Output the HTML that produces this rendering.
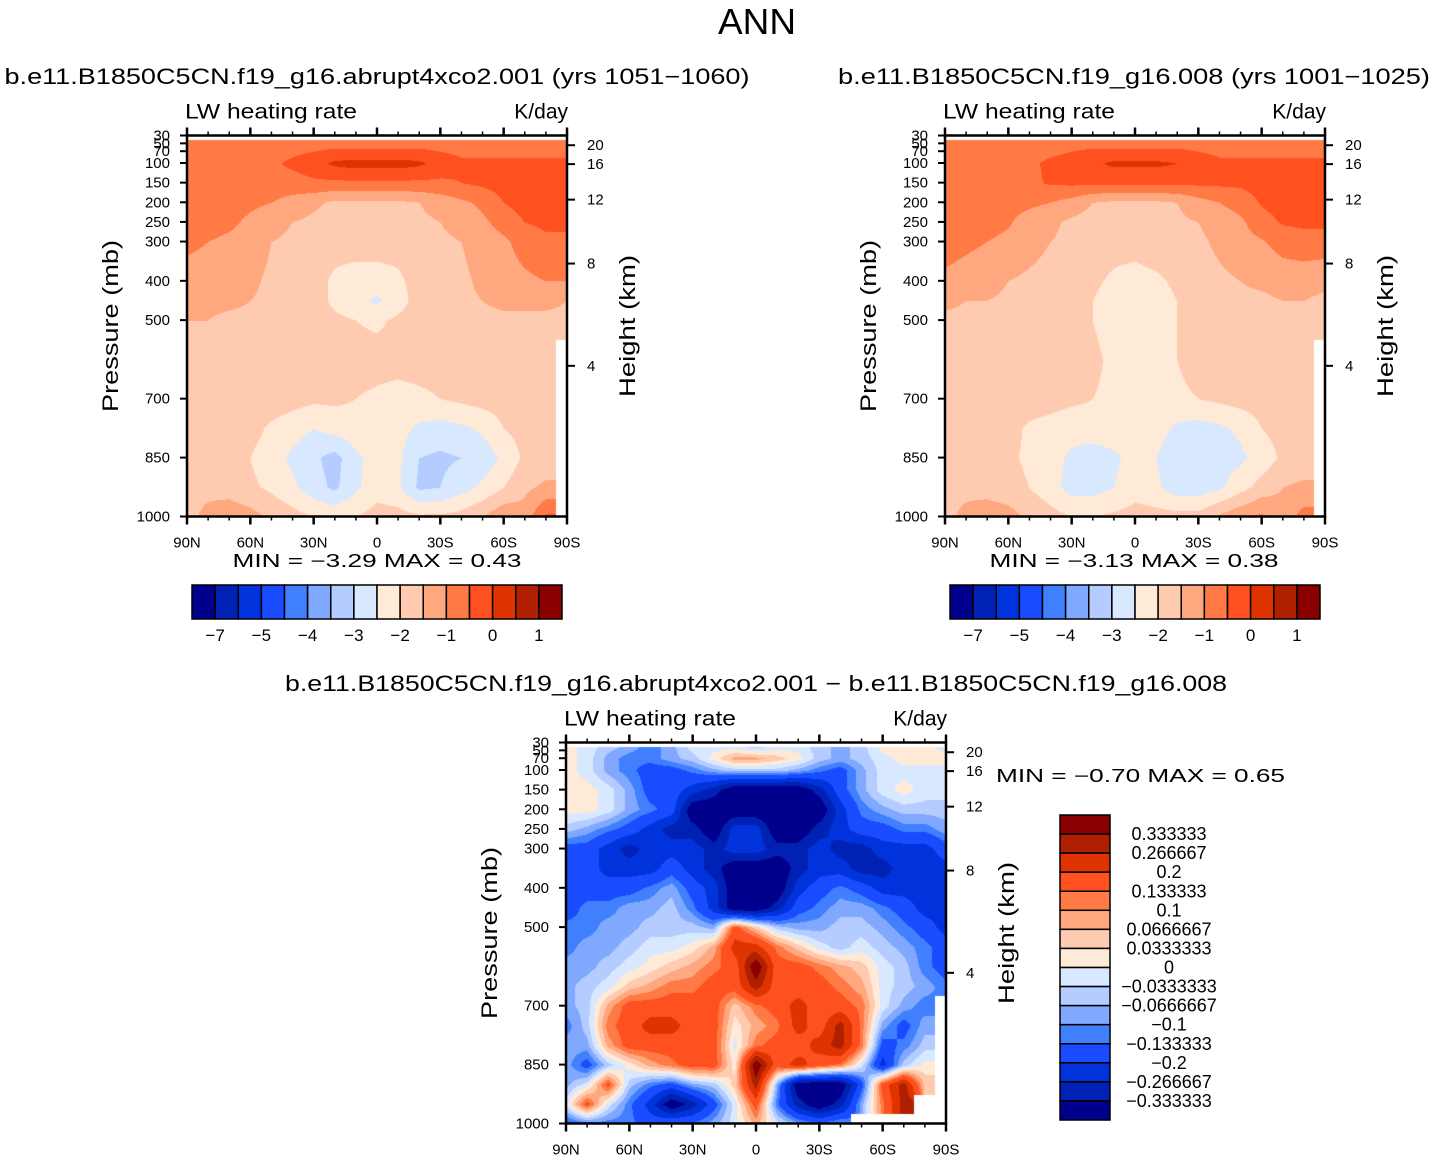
<!DOCTYPE html>
<html><head><meta charset="utf-8">
<style>
html,body{margin:0;padding:0;background:#fff;}
body{width:1434px;height:1161px;position:relative;overflow:hidden;font-family:"Liberation Sans",sans-serif;}
canvas{position:absolute;}
svg{position:absolute;left:0;top:0;}
text{font-family:"Liberation Sans",sans-serif;fill:#000;}
</style></head>
<body>
<canvas id="c1"></canvas>
<canvas id="c2"></canvas>
<canvas id="c3"></canvas>
<svg id="ov" width="1434" height="1161"></svg>
<script>
// ---- data ----
const lats = [90,80,70,60,50,40,30,20,10,0,-10,-20,-30,-40,-50,-60,-70,-80,-90];
const plevs = [40,70,100,150,200,250,300,400,450,500,600,700,775,850,925,1000];
const N = NaN;
const field1 = [
[-0.8,-0.8,-0.8,-0.8,-0.8,-0.8,-0.8,-0.8,-0.8,-0.8,-0.8,-0.8,-0.8,-0.8,-0.8,-0.8,-0.8,-0.8,-0.8],
[-0.8,-0.8,-0.8,-0.8,-0.7,-0.6,-0.5,-0.4,-0.4,-0.4,-0.4,-0.4,-0.5,-0.6,-0.6,-0.6,-0.6,-0.6,-0.6],
[-0.8,-0.8,-0.8,-0.7,-0.6,-0.4,-0.2,0.1,0.2,0.2,0.2,0.1,-0.2,-0.4,-0.4,-0.4,-0.4,-0.4,-0.4],
[-0.8,-0.8,-0.8,-0.8,-0.7,-0.7,-0.6,-0.6,-0.6,-0.6,-0.6,-0.6,-0.6,-0.5,-0.4,-0.3,-0.3,-0.3,-0.3],
[-0.8,-0.8,-0.8,-0.9,-1.0,-1.2,-1.4,-1.6,-1.6,-1.6,-1.6,-1.5,-1.3,-1.1,-0.9,-0.5,-0.3,-0.3,-0.3],
[-0.8,-0.8,-0.9,-1.1,-1.3,-1.5,-1.6,-1.7,-1.7,-1.7,-1.7,-1.6,-1.5,-1.3,-1.1,-0.8,-0.5,-0.4,-0.4],
[-0.9,-1.0,-1.1,-1.2,-1.5,-1.6,-1.7,-1.8,-1.8,-1.8,-1.8,-1.7,-1.6,-1.5,-1.3,-1.1,-0.8,-0.6,-0.6],
[-1.2,-1.2,-1.3,-1.4,-1.6,-1.7,-1.8,-2.1,-2.2,-2.2,-2.1,-1.8,-1.7,-1.6,-1.4,-1.2,-1.1,-1.0,-1.0],
[-1.3,-1.4,-1.4,-1.5,-1.6,-1.7,-1.8,-2.1,-2.3,-2.6,-2.2,-1.8,-1.7,-1.6,-1.5,-1.4,-1.4,-1.4,-1.5],
[-1.5,-1.5,-1.6,-1.6,-1.7,-1.7,-1.8,-1.9,-2.0,-2.1,-1.9,-1.8,-1.7,-1.7,-1.6,-1.6,-1.6,-1.6,-1.6],
[-1.6,-1.6,-1.6,-1.7,-1.7,-1.8,-1.8,-1.8,-1.8,-1.8,-1.8,-1.8,-1.8,-1.8,-1.8,-1.8,-1.8,-1.9,N],
[-1.7,-1.7,-1.7,-1.7,-1.7,-1.8,-1.9,-1.9,-2.0,-2.1,-2.2,-2.1,-2.0,-1.9,-1.8,-1.8,-1.7,-1.7,N],
[-1.7,-1.7,-1.7,-1.8,-2.1,-2.3,-2.5,-2.3,-2.2,-2.2,-2.3,-2.6,-2.7,-2.6,-2.4,-2.0,-1.8,-1.7,N],
[-1.7,-1.7,-1.8,-2.0,-2.3,-2.6,-2.9,-3.2,-2.6,-2.3,-2.4,-3.0,-3.1,-3.0,-2.8,-2.4,-1.9,-1.8,N],
[-1.6,-1.6,-1.7,-1.9,-2.1,-2.4,-2.8,-3.1,-2.6,-2.2,-2.4,-3.1,-3.0,-2.7,-2.4,-2.0,-1.6,-1.4,N],
[-1.6,-1.4,-1.2,-1.3,-1.6,-1.8,-2.0,-2.1,-2.0,-1.8,-1.8,-1.9,-1.9,-1.8,-1.5,-1.1,-1.3,-0.4,N]
];
const field2 = [
[-0.8,-0.8,-0.8,-0.8,-0.8,-0.8,-0.8,-0.8,-0.8,-0.8,-0.8,-0.8,-0.8,-0.8,-0.8,-0.8,-0.8,-0.8,-0.8],
[-0.8,-0.8,-0.8,-0.8,-0.7,-0.6,-0.5,-0.4,-0.4,-0.4,-0.4,-0.4,-0.5,-0.6,-0.6,-0.6,-0.6,-0.6,-0.6],
[-0.8,-0.8,-0.8,-0.7,-0.6,-0.4,-0.3,-0.1,0.1,0.1,0.1,0.0,-0.2,-0.4,-0.4,-0.4,-0.4,-0.4,-0.4],
[-0.8,-0.8,-0.8,-0.7,-0.6,-0.45,-0.4,-0.4,-0.4,-0.4,-0.4,-0.4,-0.4,-0.4,-0.4,-0.3,-0.3,-0.3,-0.3],
[-0.8,-0.8,-0.8,-0.85,-0.9,-1.0,-1.2,-1.5,-1.6,-1.6,-1.6,-1.5,-1.2,-1.0,-0.8,-0.45,-0.3,-0.3,-0.3],
[-0.7,-0.8,-0.85,-0.95,-1.2,-1.4,-1.6,-1.7,-1.7,-1.7,-1.7,-1.6,-1.5,-1.3,-1.1,-0.7,-0.45,-0.4,-0.4],
[-0.8,-0.9,-1.0,-1.1,-1.3,-1.5,-1.6,-1.7,-1.8,-1.8,-1.7,-1.7,-1.6,-1.4,-1.2,-1.05,-0.8,-0.7,-0.7],
[-1.1,-1.2,-1.3,-1.5,-1.6,-1.7,-1.8,-1.9,-2.1,-2.2,-2.1,-1.9,-1.7,-1.6,-1.5,-1.4,-1.3,-1.3,-1.4],
[-1.4,-1.5,-1.5,-1.6,-1.7,-1.8,-1.8,-2.0,-2.2,-2.2,-2.2,-2.0,-1.8,-1.7,-1.6,-1.6,-1.5,-1.5,-1.6],
[-1.6,-1.6,-1.6,-1.7,-1.7,-1.8,-1.8,-2.0,-2.2,-2.2,-2.1,-2.0,-1.8,-1.7,-1.7,-1.7,-1.7,-1.6,-1.7],
[-1.6,-1.6,-1.7,-1.7,-1.7,-1.8,-1.8,-1.9,-2.1,-2.2,-2.1,-2.0,-1.8,-1.8,-1.8,-1.8,-1.8,-1.7,N],
[-1.7,-1.7,-1.7,-1.7,-1.7,-1.8,-1.9,-2.0,-2.1,-2.2,-2.2,-2.1,-2.0,-1.9,-1.8,-1.8,-1.8,-1.7,N],
[-1.7,-1.7,-1.7,-1.8,-2.1,-2.2,-2.3,-2.2,-2.2,-2.2,-2.3,-2.6,-2.7,-2.6,-2.4,-2.0,-1.8,-1.7,N],
[-1.7,-1.7,-1.8,-1.9,-2.1,-2.3,-2.6,-2.8,-2.6,-2.3,-2.5,-2.8,-2.9,-2.7,-2.6,-2.3,-1.9,-1.8,N],
[-1.6,-1.6,-1.7,-1.8,-2.0,-2.3,-2.7,-2.7,-2.5,-2.2,-2.4,-2.8,-2.8,-2.6,-2.2,-1.8,-1.5,-1.4,N],
[-1.6,-1.4,-1.2,-1.3,-1.6,-1.8,-2.0,-2.0,-1.9,-1.8,-1.8,-1.8,-1.8,-1.4,-1.1,-0.9,-1.3,-0.8,N]
];
const plevsDiff = [40,70,100,150,200,250,300,350,400,450,500,550,600,650,700,750,800,850,900,950,1000];
const fieldDiff = [
[0.015,-0.015,-0.05,-0.08,-0.12,-0.08,-0.015,-0.015,-0.015,-0.05,-0.015,-0.015,-0.05,-0.08,-0.05,0.015,0.015,0.015,-0.015],
[0.015,-0.015,-0.08,-0.12,-0.12,-0.08,-0.05,0.015,0.08,0.08,0.05,0.015,-0.05,-0.08,-0.05,-0.015,0.015,0.015,0.015],
[0.015,-0.015,-0.08,-0.12,-0.16,-0.16,-0.12,-0.08,-0.05,-0.05,-0.05,-0.08,-0.12,-0.16,-0.08,-0.015,-0.015,-0.015,-0.015],
[0.015,0.015,-0.015,-0.08,-0.16,-0.16,-0.23,-0.3,-0.4,-0.4,-0.4,-0.4,-0.3,-0.16,-0.08,-0.015,0.015,-0.015,-0.015],
[0.015,0.015,-0.015,-0.08,-0.12,-0.16,-0.4,-0.4,-0.4,-0.4,-0.4,-0.4,-0.4,-0.23,-0.12,-0.08,-0.05,-0.05,-0.05],
[-0.05,-0.08,-0.12,-0.16,-0.23,-0.3,-0.3,-0.4,-0.23,-0.23,-0.4,-0.4,-0.3,-0.23,-0.16,-0.16,-0.12,-0.12,-0.08],
[-0.16,-0.16,-0.23,-0.3,-0.23,-0.23,-0.23,-0.3,-0.23,-0.23,-0.3,-0.3,-0.23,-0.3,-0.3,-0.23,-0.23,-0.23,-0.16],
[-0.16,-0.16,-0.23,-0.23,-0.23,-0.16,-0.23,-0.3,-0.4,-0.4,-0.4,-0.3,-0.23,-0.23,-0.3,-0.3,-0.23,-0.23,-0.23],
[-0.16,-0.16,-0.16,-0.16,-0.12,-0.08,-0.16,-0.23,-0.4,-0.4,-0.4,-0.23,-0.16,-0.12,-0.16,-0.23,-0.23,-0.23,-0.23],
[-0.16,-0.12,-0.12,-0.08,-0.08,-0.05,-0.12,-0.23,-0.4,-0.4,-0.3,-0.16,-0.12,-0.08,-0.08,-0.12,-0.16,-0.23,-0.23],
[-0.12,-0.12,-0.08,-0.08,-0.05,-0.05,-0.05,-0.08,0.16,0.05,-0.05,-0.08,-0.08,-0.05,-0.05,-0.08,-0.12,-0.16,-0.23],
[-0.12,-0.08,-0.08,-0.05,-0.015,-0.015,0.015,0.08,0.23,0.23,0.12,0.05,-0.015,-0.05,-0.015,-0.05,-0.08,-0.12,-0.16],
[-0.08,-0.08,-0.05,-0.015,0.015,0.05,0.08,0.12,0.16,0.4,0.16,0.16,0.12,0.08,0.05,-0.015,-0.05,-0.12,-0.16],
[-0.08,-0.05,-0.015,0.05,0.08,0.12,0.12,0.16,0.16,0.3,0.16,0.16,0.16,0.12,0.08,-0.015,-0.05,-0.08,-0.12],
[-0.08,-0.05,0.08,0.16,0.16,0.16,0.16,0.16,0.05,0.12,0.16,0.23,0.16,0.16,0.12,-0.015,-0.08,-0.12,N],
[-0.12,-0.05,0.12,0.16,0.23,0.23,0.16,0.16,0.015,0.08,0.12,0.23,0.16,0.3,0.12,-0.08,-0.16,-0.08,N],
[-0.08,-0.08,0.08,0.16,0.16,0.16,0.16,0.16,-0.015,0.12,0.16,0.16,0.23,0.3,0.12,-0.16,-0.12,-0.05,N],
[-0.08,-0.16,-0.05,0.015,0.08,0.12,0.16,0.16,0.015,0.4,0.16,0.23,0.16,0.12,-0.015,-0.23,-0.05,0.015,N],
[-0.08,-0.015,0.16,-0.05,-0.12,-0.16,-0.08,-0.05,0.05,0.3,-0.08,-0.4,-0.4,-0.4,-0.16,0.16,0.3,0.05,N],
[-0.015,0.16,-0.015,-0.12,-0.23,-0.4,-0.3,-0.16,-0.015,0.16,-0.12,-0.3,-0.4,-0.3,-0.08,0.12,0.3,N,N],
[-0.16,-0.12,-0.12,-0.12,-0.16,-0.12,-0.12,-0.08,-0.015,0.08,-0.015,-0.08,-0.12,-0.08,N,N,N,N,N]
];
const levels1 = [-7,-6,-5,-4.5,-4,-3.5,-3,-2.5,-2,-1.5,-1,-0.5,0,0.5,1];
const levelLabels1 = ["−7","−5","−4","−3","−2","−1","0","1"];
const levelLabelIdx1 = [0,2,4,6,8,10,12,14];
const levelsDiff = [-0.333333,-0.266667,-0.2,-0.133333,-0.1,-0.0666667,-0.0333333,0,0.0333333,0.0666667,0.1,0.133333,0.2,0.266667,0.333333];
const levelLabelsDiff = ["−0.333333","−0.266667","−0.2","−0.133333","−0.1","−0.0666667","−0.0333333","0","0.0333333","0.0666667","0.1","0.133333","0.2","0.266667","0.333333"];
const colors = ["#00008c","#0022b4","#0033dc","#1a4cff","#4080ff","#80a8ff","#b4ccff","#d8e8ff","#ffead8","#ffcbb0","#ffa880","#ff7a45","#ff5020","#e03400","#b02000","#8a0000"];
const pTicks = [30,50,70,100,150,200,250,300,400,500,700,850,1000];
const hTicks = [20,16,12,8,4];
const latTicks = [90,60,30,0,-30,-60,-90];
const latTickLabels = ["90N","60N","30N","0","30S","60S","90S"];
const latMinor = [80,70,50,40,20,10,-10,-20,-40,-50,-70,-80];
const stats = [["−3.29","0.43"],["−3.13","0.38"],["−0.70","0.65"]];

// ---- helpers ----
const NS="http://www.w3.org/2000/svg";
const ov=document.getElementById('ov');
function mk(tag,attrs,parent){const e=document.createElementNS(NS,tag);for(const k in attrs)e.setAttribute(k,attrs[k]);(parent||ov).appendChild(e);return e;}
function txt(x,y,s,size,anchor,extra,parent){const t=mk('text',Object.assign({x:x,y:y,'font-size':size,'text-anchor':anchor||'start'},extra||{}),parent);t.textContent=s;return t;}
function fit(len){return {textLength:len,lengthAdjust:'spacingAndGlyphs'};}
function hex(c){return [parseInt(c.slice(1,3),16),parseInt(c.slice(3,5),16),parseInt(c.slice(5,7),16)];}
const rgb=colors.map(hex);
function colorIdx(v,lv){let i=0;while(i<lv.length&&v>=lv[i])i++;return i;}
function h2p(h){const m=h*1000;if(m<=11000)return 1013.25*Math.pow(1-2.25577e-5*m,5.25588);return 226.32*Math.exp(-(m-11000)/6341.6);}

function panel(cv,x0,x1,yTop,yBot,pl,grid,lv){
  const W=x1-x0,H=Math.round(yBot-yTop);
  const c=document.getElementById(cv);c.width=W;c.height=H;c.style.left=x0+'px';c.style.top=yTop+'px';
  const ctx=c.getContext('2d');const img=ctx.createImageData(W,H);const nc=lats.length;
  for(let py=0;py<H;py++){
    const p=30+(py+0.5)/H*970;
    for(let px=0;px<W;px++){
      const o=(py*W+px)*4;let col=[255,255,255];
      if(p>=pl[0]){
        let k=0;while(k<pl.length-2&&p>pl[k+1])k++;
        const fy=Math.min(1,(p-pl[k])/(pl[k+1]-pl[k]));
        const fxx=(px+0.5)/W*(nc-1);let i=Math.min(nc-2,Math.floor(fxx));const fx=fxx-i;
        const ni=fx<0.5?i:i+1,nk=fy<0.5?k:k+1;
        if(!isNaN(grid[nk][ni])){
          const cs=[[grid[k][i],(1-fx)*(1-fy)],[grid[k][i+1],fx*(1-fy)],[grid[k+1][i],(1-fx)*fy],[grid[k+1][i+1],fx*fy]];
          let s=0,w=0;for(const [v,ww] of cs){if(!isNaN(v)){s+=v*ww;w+=ww;}}
          col=rgb[colorIdx(s/w,lv)];
        }
      }
      img.data[o]=col[0];img.data[o+1]=col[1];img.data[o+2]=col[2];img.data[o+3]=255;
    }
  }
  ctx.putImageData(img,0,0);
}
function axes(x0,x1,yTop,yBot,name){
  const g=mk('g',{});
  
  
  const W=x1-x0;
  const yp=p=>yTop+(p-30)/970*(yBot-yTop);
  const xl=l=>x0+(90-l)/180*W;
  mk('rect',{x:x0,y:yTop,width:W,height:yBot-yTop,fill:'none',stroke:'#000','stroke-width':2.5},g);
  latTicks.forEach((l,i)=>{
    mk('line',{x1:xl(l),x2:xl(l),y1:yTop,y2:yTop-8,stroke:'#000','stroke-width':2.5},g);
    mk('line',{x1:xl(l),x2:xl(l),y1:yBot,y2:yBot+8,stroke:'#000','stroke-width':2.5},g);
    const t=txt(xl(l),yBot+31,latTickLabels[i],15,'middle',{},g);
    
    
  });
  latMinor.forEach(l=>{
    mk('line',{x1:xl(l),x2:xl(l),y1:yTop,y2:yTop-4,stroke:'#000','stroke-width':1.5},g);
    mk('line',{x1:xl(l),x2:xl(l),y1:yBot,y2:yBot+4,stroke:'#000','stroke-width':1.5},g);
  });
  pTicks.forEach(p=>{
    mk('line',{x1:x0,x2:x0-7,y1:yp(p),y2:yp(p),stroke:'#000','stroke-width':2},g);
    const t=txt(x0-17,yp(p)+5,String(p),15,'end',{},g);
    
    
  });
  hTicks.forEach(h=>{
    const y=yp(h2p(h));
    mk('line',{x1:x1,x2:x1+8,y1:y,y2:y,stroke:'#000','stroke-width':2},g);
    const t=txt(x1+20,y+5,String(h),15,'start',{},g);
    
    
  });
  const t1=txt(x0-2,yTop-17,'LW heating rate',21,'start',fit(172),g);
  
  
  const t2=txt(x1+1,yTop-17,'K/day',21,'end',{},g);
  
  
  const cy=(yTop+yBot)/2;
  const t3=txt(0,0,'Pressure (mb)',22,'middle',Object.assign({transform:`translate(${x0-69},${cy})rotate(-90)`},fit(172)),g);
  
  
  const t4=txt(0,0,'Height (km)',22,'middle',Object.assign({transform:`translate(${x1+68},${cy})rotate(-90)`},fit(142)),g);
  
  
}
function hbar(x0,y0,name){
  const g=mk('g',{});
  
  
  const bw=370/16;
  colors.forEach((c,i)=>{
    const r=mk('rect',{x:x0+i*bw,y:y0,width:bw,height:34,fill:c,stroke:'#000','stroke-width':1.5},g);
    
    
  });
  levelLabelIdx1.forEach((li,j)=>{
    const t=txt(x0+(li+1)*bw,y0+56,levelLabels1[j],17,'middle',{},g);
    
    
  });
}

// ---- panels ----
panel('c1',187,567,135.5,516.5,plevs,field1,levels1);
panel('c2',945,1325,135.5,516.5,plevs,field2,levels1);
panel('c3',566,946,742.5,1123.5,plevsDiff,fieldDiff,levelsDiff);
axes(187,567,135.5,516.5,'control-panel');
axes(945,1325,135.5,516.5,'base-panel');
axes(566,946,742.5,1123.5,'difference-panel');

const tt=txt(757,34,'ANN',36,'middle',fit(78));


const s1=txt(377,84,'b.e11.B1850C5CN.f19_g16.abrupt4xco2.001  (yrs  1051−1060)',22,'middle',fit(745));


const s2=txt(1134,84,'b.e11.B1850C5CN.f19_g16.008  (yrs  1001−1025)',22,'middle',fit(592));


const s3=txt(756,691,'b.e11.B1850C5CN.f19_g16.abrupt4xco2.001  −  b.e11.B1850C5CN.f19_g16.008',22,'middle',fit(942));



const m1=txt(377,567,'MIN  =   '+stats[0][0]+'   MAX  =    '+stats[0][1],18,'middle',Object.assign({'xml:space':'preserve'},fit(289)));


const m2=txt(1134,567,'MIN  =   '+stats[1][0]+'   MAX  =    '+stats[1][1],18,'middle',Object.assign({'xml:space':'preserve'},fit(289)));


const m3=txt(996,782,'MIN  =    '+stats[2][0]+'    MAX  =     '+stats[2][1],18,'start',Object.assign({'xml:space':'preserve'},fit(289)));



hbar(192,585,'control-colorbar');
hbar(950,585,'base-colorbar');

// vertical colorbar
const vg=mk('g',{});


const bh=305/16;
for(let i=0;i<16;i++){
  const r=mk('rect',{x:1060,y:815+i*bh,width:50,height:bh,fill:colors[15-i],stroke:'#000','stroke-width':1.5},vg);
  
  
}
for(let i=0;i<15;i++){
  const t=txt(1169,815+(i+1)*bh+6,levelLabelsDiff[14-i],18,'middle',{},vg);
  
  
}
</script>
</body></html>
